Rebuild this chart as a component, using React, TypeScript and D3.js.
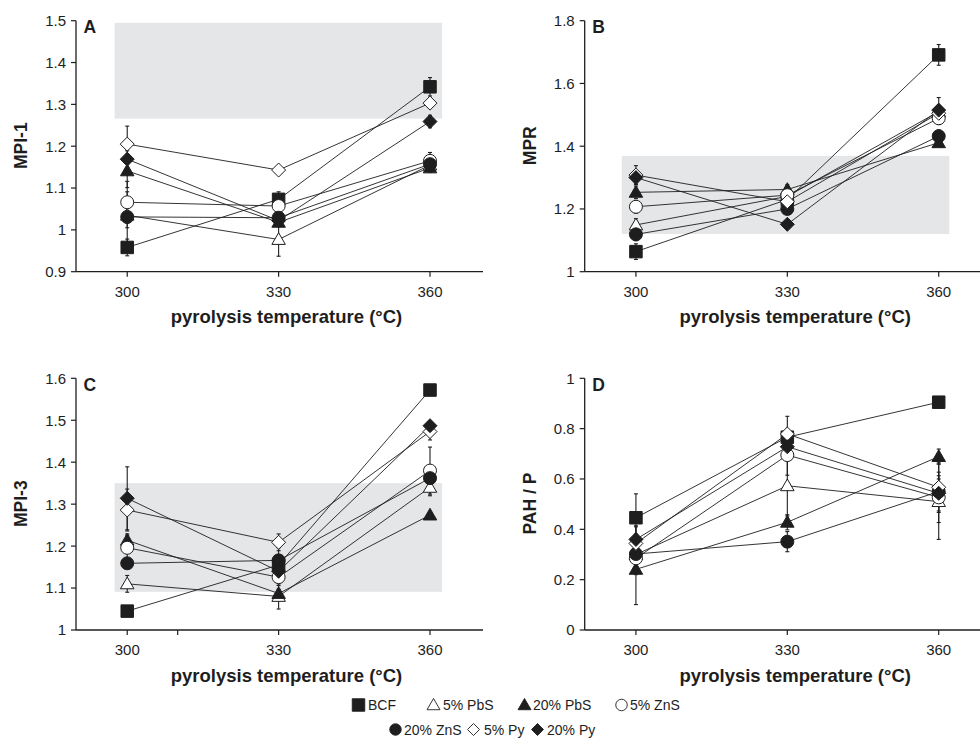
import React from "react";
import * as d3 from "d3";

// ---------- data ----------
const temps = [300, 330, 360];
const seriesNames = ["BCF", "5% PbS", "20% PbS", "5% ZnS", "20% ZnS", "5% Py", "20% Py"];
const seriesShapes = ["square", "triangle", "triangle", "circle", "circle", "diamond", "diamond"];
const seriesFilled = [true, false, true, false, true, false, true];

// rows follow seriesNames, columns follow temps
const mpi1Values = [
  [0.958, 1.073, 1.342],
  [1.035, 0.977, 1.155],
  [1.141, 1.018, 1.148],
  [1.066, 1.057, 1.165],
  [1.031, 1.029, 1.157],
  [1.205, 1.143, 1.303],
  [1.169, 1.022, 1.259],
];
const mpi1Errors = [
  [0.02, 0.018, 0.022],
  [0.03, 0.04, 0.01],
  [0.04, 0.01, 0.01],
  [0.05, 0.01, 0.02],
  [0.06, 0.01, 0.01],
  [0.043, 0.005, 0.01],
  [0.02, 0.01, 0.015],
];
const mprValues = [
  [1.064, 1.23, 1.691],
  [1.149, 1.24, 1.51],
  [1.253, 1.262, 1.411],
  [1.207, 1.244, 1.489],
  [1.119, 1.2, 1.432],
  [1.308, 1.223, 1.505],
  [1.3, 1.151, 1.515],
];
const mprErrors = [
  [0.025, 0.01, 0.033],
  [0.02, 0.01, 0.02],
  [0.02, 0.015, 0.01],
  [0.02, 0.01, 0.02],
  [0.02, 0.01, 0.02],
  [0.03, 0.01, 0.02],
  [0.02, 0.01, 0.04],
];
const mpi3Values = [
  [1.045, 1.155, 1.572],
  [1.11, 1.08, 1.34],
  [1.214, 1.087, 1.274],
  [1.196, 1.126, 1.38],
  [1.159, 1.166, 1.362],
  [1.286, 1.209, 1.473],
  [1.314, 1.14, 1.487],
];
const mpi3Errors = [
  [0.005, 0.02, 0.005],
  [0.02, 0.03, 0.02],
  [0.015, 0.01, 0.005],
  [0.03, 0.02, 0.056],
  [0.01, 0.03, 0.01],
  [0.05, 0.02, 0.02],
  [0.075, 0.01, 0.01],
];
const pahValues = [
  [0.446, 0.766, 0.905],
  [0.3, 0.573, 0.51],
  [0.241, 0.428, 0.689],
  [0.285, 0.695, 0.527],
  [0.302, 0.351, 0.55],
  [0.344, 0.779, 0.567],
  [0.36, 0.728, 0.543],
];
const pahErrors = [
  [0.095, 0.02, 0.01],
  [0.08, 0.12, 0.15],
  [0.14, 0.03, 0.03],
  [0.06, 0.08, 0.1],
  [0.05, 0.04, 0.05],
  [0.07, 0.07, 0.1],
  [0.05, 0.05, 0.07],
];

const mpi1Ticks = [0.9, 1, 1.1, 1.2, 1.3, 1.4, 1.5];
const mprTicks = [1, 1.2, 1.4, 1.6, 1.8];
const mpi3Ticks = [1, 1.1, 1.2, 1.3, 1.4, 1.5, 1.6];
const pahTicks = [0, 0.2, 0.4, 0.6, 0.8, 1];
const xTicks = [300, 330, 360];

// reference ranges (grey bands): [x0, x1, y0, y1]
const mpi1Band = [297.5, 362.4, 1.266, 1.495];
const mprBand = [297.2, 362.1, 1.12, 1.369];
const mpi3Band = [297.5, 362.4, 1.091, 1.35];

// ---------- symbols ----------
const symSquare: d3.SymbolType = {
  draw(ctx, size) {
    const s = size / 2;
    ctx.rect(-s, -s, 2 * s, 2 * s);
  },
};
const symCircle: d3.SymbolType = {
  draw(ctx, size) {
    const r = size / 2;
    ctx.moveTo(r, 0);
    ctx.arc(0, 0, r, 0, 2 * Math.PI);
  },
};
const symTriangle: d3.SymbolType = {
  draw(ctx, size) {
    const a = size;
    const h = (a * Math.sqrt(3)) / 2;
    ctx.moveTo(0, -h * 0.58);
    ctx.lineTo(a / 2, h * 0.42);
    ctx.lineTo(-a / 2, h * 0.42);
    ctx.closePath();
  },
};
const symDiamond: d3.SymbolType = {
  draw(ctx, size) {
    const r = size / 2;
    ctx.moveTo(0, -r);
    ctx.lineTo(r, 0);
    ctx.lineTo(0, r);
    ctx.lineTo(-r, 0);
    ctx.closePath();
  },
};
const shapeTypes: Record<string, d3.SymbolType> = {
  square: symSquare,
  circle: symCircle,
  triangle: symTriangle,
  diamond: symDiamond,
};
const shapeSizes: Record<string, number> = { square: 12.5, circle: 13, triangle: 13.5, diamond: 14 };
const legendSizes: Record<string, number> = { square: 12.5, circle: 11.5, triangle: 13, diamond: 12 };

function symPath(shape: string, size: number) {
  return d3.symbol().type(shapeTypes[shape]).size(size)() as string;
}

// ---------- panel ----------
const FONT = "'Liberation Sans', Arial, Helvetica, sans-serif";
const INK = "#1e1e1e";

type PanelProps = {
  letter: string;
  yTitle: string;
  values: number[][];
  errors: number[][];
  yTicks: number[];
  band: number[] | null;
  left: number;
  top: number;
  bottom: number;
  extraXTicks?: number[];
};

function Panel({ letter, yTitle, values, errors, yTicks, band, left, top, bottom, extraXTicks }: PanelProps) {
  const x = d3.scaleLinear().domain([289.85, 370.5]).range([left, left + 407]);
  const y = d3
    .scaleLinear()
    .domain([yTicks[0], yTicks[yTicks.length - 1]])
    .range([bottom, top]);
  const line = d3
    .line<number>()
    .x((_, i) => x(temps[i]))
    .y((d) => y(d));
  const fmt = d3.format("~g");
  const x0 = x.range()[0];
  const x1 = x.range()[1];
  const titleCx = (x0 + x1) / 2 + 7;
  const capW = 2;

  return (
    <g>
      {band && (
        <rect
          x={x(band[0])}
          y={y(band[3])}
          width={x(band[1]) - x(band[0])}
          height={y(band[2]) - y(band[3])}
          fill="#e5e6e8"
        />
      )}
      {/* axes */}
      <line x1={x0} x2={x1} y1={bottom} y2={bottom} stroke={INK} strokeWidth={1.3} />
      <line x1={x0} x2={x0} y1={bottom} y2={top} stroke={INK} strokeWidth={1.3} />
      {yTicks.map((t) => (
        <g key={"y" + t}>
          <line x1={x0 - 5} x2={x0} y1={y(t)} y2={y(t)} stroke={INK} strokeWidth={1.2} />
          <text x={x0 - 10} y={y(t)} dy="0.36em" textAnchor="end" fontSize={15} fill={INK}>
            {fmt(t)}
          </text>
        </g>
      ))}
      {xTicks.map((t) => (
        <g key={"x" + t}>
          <line x1={x(t)} x2={x(t)} y1={bottom} y2={bottom + 5} stroke={INK} strokeWidth={1.2} />
          <text x={x(t)} y={bottom + 25} textAnchor="middle" fontSize={15} fill={INK}>
            {t}
          </text>
        </g>
      ))}
      {(extraXTicks || []).map((t) => (
        <line key={"m" + t} x1={x(t)} x2={x(t)} y1={bottom} y2={bottom + 5} stroke={INK} strokeWidth={1.2} />
      ))}
      <text
        transform={`translate(${left - 49},${(top + bottom) / 2 - 0.5}) rotate(-90)`}
        textAnchor="middle"
        fontSize={17.5}
        fontWeight="bold"
        fill={INK}
      >
        {yTitle}
      </text>
      <text x={titleCx} y={bottom + 51.5} textAnchor="middle" fontSize={18.5} fontWeight="bold" fill={INK}>
        pyrolysis temperature (°C)
      </text>
      <text x={left + 7.5} y={top + 12.6} fontSize={17.5} fontWeight="bold" fill={INK}>
        {letter}
      </text>
      {/* error bars */}
      {values.map((row, s) =>
        row.map((v, i) => {
          const e = errors[s][i];
          const cx = x(temps[i]);
          return (
            <g key={`e${s}-${i}`} stroke={INK} strokeWidth={1.1}>
              <line x1={cx} x2={cx} y1={y(v - e)} y2={y(v + e)} />
              <line x1={cx - capW} x2={cx + capW} y1={y(v - e)} y2={y(v - e)} />
              <line x1={cx - capW} x2={cx + capW} y1={y(v + e)} y2={y(v + e)} />
            </g>
          );
        })
      )}
      {/* lines */}
      {values.map((row, s) => (
        <path key={"l" + s} d={line(row) as string} fill="none" stroke={INK} strokeWidth={0.9} />
      ))}
      {/* markers */}
      {values.map((row, s) =>
        row.map((v, i) => (
          <path
            key={`m${s}-${i}`}
            transform={`translate(${x(temps[i])},${y(v)})`}
            d={symPath(seriesShapes[s], shapeSizes[seriesShapes[s]])}
            fill={seriesFilled[s] ? INK : "#fff"}
            stroke={INK}
            strokeWidth={1}
          />
        ))
      )}
    </g>
  );
}

// legend layout (marker centre x, text x, row)
const legendPos = [
  [358.5, 368, 0],
  [433.5, 443, 0],
  [524.5, 533, 0],
  [621.5, 630, 0],
  [395.5, 404, 1],
  [473.5, 484, 1],
  [537.5, 547, 1],
];

export default function App() {
  return (
    <svg
      width={980}
      height={742}
      style={{ position: "absolute", left: 0, top: 0, background: "#fff" }}
      fontFamily={FONT}
    >
      <Panel letter="A" yTitle="MPI-1" values={mpi1Values} errors={mpi1Errors} yTicks={mpi1Ticks} band={mpi1Band} left={76} top={20.7} bottom={271.7} />
      <Panel letter="B" yTitle="MPR" values={mprValues} errors={mprErrors} yTicks={mprTicks} band={mprBand} left={584.7} top={20.7} bottom={271.7} />
      <Panel letter="C" yTitle="MPI-3" values={mpi3Values} errors={mpi3Errors} yTicks={mpi3Ticks} band={mpi3Band} left={76} top={378.3} bottom={630} extraXTicks={[310]} />
      <Panel letter="D" yTitle="PAH / P" values={pahValues} errors={pahErrors} yTicks={pahTicks} band={null} left={584.7} top={378.3} bottom={630} />
      {/* legend */}
      {seriesNames.map((name, s) => {
        const [mx, tx, row] = legendPos[s];
        const cy = row === 0 ? 705 : 729.5;
        const shape = seriesShapes[s];
        return (
          <g key={"lg" + s}>
            <path
              transform={`translate(${mx},${cy})`}
              d={symPath(shape, legendSizes[shape])}
              fill={seriesFilled[s] ? INK : "#fff"}
              stroke={INK}
              strokeWidth={0.9}
            />
            <text x={tx} y={cy + 5.2} fontSize={14} fill={INK}>
              {name}
            </text>
          </g>
        );
      })}
    </svg>
  );
}
